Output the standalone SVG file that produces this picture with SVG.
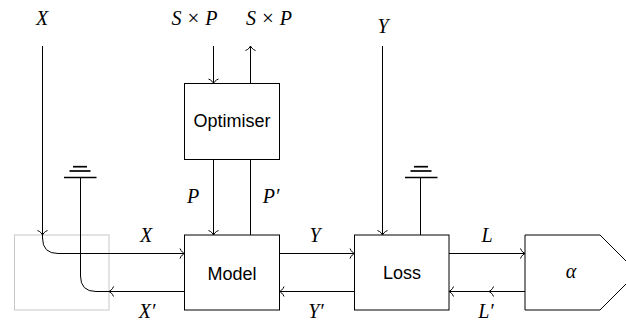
<svg xmlns="http://www.w3.org/2000/svg" width="626" height="322" viewBox="0 0 626 322">
<style>
.box{fill:#fff;stroke:#000;stroke-width:1}
.ln{fill:none;stroke:#000;stroke-width:1}
.gnd{stroke:#000;stroke-width:1.7}
.m{font-family:"Liberation Serif",serif;font-style:italic;font-size:20px;fill:#000;text-anchor:middle}
.s{font-family:"Liberation Sans",sans-serif;font-size:18px;fill:#000;text-anchor:middle}
.x{font-style:normal;font-size:21px}
</style>
<defs>
<marker id="ar" markerUnits="userSpaceOnUse" orient="auto" markerWidth="12" markerHeight="12" viewBox="-6 -6 12 12" refX="0" refY="0" overflow="visible">
<path d="M-4.5,-5 C-3.5,-2 -1,-0.5 0,0 C-1,0.5 -3.5,2 -4.5,5" fill="none" stroke="#000" stroke-width="1"/>
</marker>
</defs>

<g id="gray-box"><rect x="14.5" y="235" width="94.5" height="75" fill="none" stroke="#c8c8c8" stroke-width="1"/></g>
<g id="optimiser"><rect class="box" x="184.5" y="83.5" width="95" height="76"/><text class="s" x="232" y="127">Optimiser</text></g>
<g id="model"><rect class="box" x="184.5" y="235" width="95" height="75"/><text class="s" x="232" y="280">Model</text></g>
<g id="loss"><rect class="box" x="354.5" y="235" width="94.5" height="75"/><text class="s" x="402" y="279">Loss</text></g>
<g id="alpha"><path class="box" d="M525,235 H600 L637.5,272.5 L600,310 H525 Z"/><text class="m" x="571" y="278">α</text></g>
<g id="ground-1"><line class="gnd" x1="73" y1="166.7" x2="87" y2="166.7"/><line class="gnd" x1="69.5" y1="171" x2="90.5" y2="171"/><line class="gnd" x1="64" y1="177.5" x2="96.5" y2="177.5" stroke-width="2"/></g>
<g id="ground-2"><line class="gnd" x1="414" y1="166.7" x2="428" y2="166.7"/><line class="gnd" x1="410.5" y1="171" x2="431.5" y2="171"/><line class="gnd" x1="405" y1="177.5" x2="437.5" y2="177.5" stroke-width="2"/></g>

<g id="connectors">
<path class="ln" d="M42.5,46 V235" marker-end="url(#ar)"/>
<path class="ln" d="M42.5,235 V238 Q42.5,253.5 58,253.5 H184.5" marker-end="url(#ar)"/>
<path class="ln" d="M184.5,291.5 H109" marker-end="url(#ar)"/>
<path class="ln" d="M109,291.5 H96 Q80.5,291.5 80.5,276 V177.5"/>
<path class="ln" d="M213.5,46 V83.5" marker-end="url(#ar)"/>
<path class="ln" d="M250.5,83.5 V46" marker-end="url(#ar)"/>
<path class="ln" d="M213.5,159.5 V235" marker-end="url(#ar)"/>
<path class="ln" d="M250.5,235 V159.5"/>
<path class="ln" d="M279.5,253.5 H354.5" marker-end="url(#ar)"/>
<path class="ln" d="M354.5,291.5 H279.5" marker-end="url(#ar)"/>
<path class="ln" d="M382.5,46 V235" marker-end="url(#ar)"/>
<path class="ln" d="M420.5,235 V177.5"/>
<path class="ln" d="M449,253.5 H525" marker-end="url(#ar)"/>
<path class="ln" d="M525,291.5 H489" marker-end="url(#ar)"/>
<path class="ln" d="M489,291.5 H449" marker-end="url(#ar)"/>
</g>

<g id="labels">
<text class="m" x="42" y="25">X</text>
<text class="m" x="194.5" y="25">S<tspan dx="6" class="x">×</tspan><tspan dx="6">P</tspan></text>
<text class="m" x="269" y="25">S<tspan dx="6" class="x">×</tspan><tspan dx="6">P</tspan></text>
<text class="m" x="383" y="33">Y</text>
<text class="m" x="193" y="203">P</text>
<text class="m" x="271" y="203">P′</text>
<text class="m" x="146" y="241.5">X</text>
<text class="m" x="147" y="318">X′</text>
<text class="m" x="315" y="241.5">Y</text>
<text class="m" x="316" y="318">Y′</text>
<text class="m" x="487" y="241.5">L</text>
<text class="m" x="486" y="318">L′</text>
</g>
</svg>
